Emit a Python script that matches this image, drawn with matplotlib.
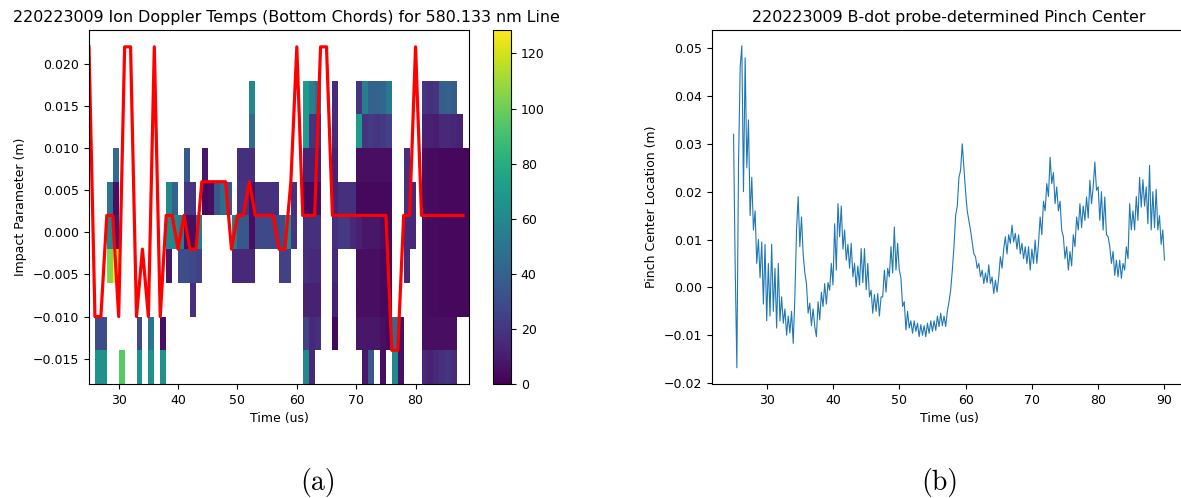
import numpy as np
import matplotlib
matplotlib.use("Agg")
import matplotlib.pyplot as plt

nan = np.nan

# ---------------- Ion Doppler temperature grid ----------------
# time bin edges (us) and chord impact-parameter edges (m)
time_edges = np.arange(25, 90)
chord_edges = np.linspace(-0.018, 0.018, 10)

# temperatures (eV) per chord, top chord (+0.016 m) first, one value per 1 us bin (t = 25 ... 88)
temp_p016 = [nan, nan, nan, nan, nan, nan, nan, nan, nan, nan, nan, nan, nan, nan, nan, nan,
             nan, nan, nan, nan, nan, nan, nan, nan, nan, nan, nan, 60, nan, nan, nan, nan,
             nan, nan, nan, nan, 70, 55, 45, nan, nan, 15, nan, nan, nan, 20, 55, 40,
             40, 42, 52, nan, nan, nan, nan, nan, 20, 18, 20, 38, 40, 36, nan, nan]
temp_p012 = [nan, nan, nan, nan, nan, nan, nan, nan, nan, nan, nan, nan, nan, nan, nan, nan,
             nan, nan, nan, nan, nan, nan, nan, nan, nan, nan, nan, 45, nan, nan, nan, nan,
             nan, nan, nan, nan, 70, 20, 18, nan, nan, 15, nan, nan, nan, 70, 20, 22,
             20, 22, 25, nan, nan, nan, nan, nan, 12, 12, 10, 15, 15, 14, 12, nan]
temp_p008 = [nan, nan, nan, nan, 45, nan, nan, nan, nan, nan, nan, nan, nan, nan, nan, nan,
             35, nan, nan, 8, nan, nan, nan, nan, nan, 18, 18, 18, nan, nan, nan, nan,
             nan, nan, nan, nan, 12, 12, 12, nan, nan, 12, nan, nan, nan, 5, 5, 5,
             5, 5, 5, nan, nan, 18, nan, nan, 5, 4, 4, 3, 3, 3, 3, 3]
temp_p004 = [nan, nan, nan, 50, 5, nan, nan, nan, nan, nan, nan, nan, nan, 60, 40, nan,
             20, 20, nan, 3, 5, 35, 45, 35, nan, 20, 20, 5, 18, 18, 18, 18,
             nan, nan, 18, nan, 3, 3, 5, nan, nan, 12, 18, 18, 18, 3, 3, 3,
             3, 3, 3, nan, nan, 18, 15, nan, 5, 4, 4, 3, 3, 3, 3, 3]
temp_p000 = [nan, nan, nan, 60, 8, nan, nan, nan, nan, nan, nan, nan, nan, 60, 60, 55,
             5, 5, 55, nan, nan, nan, nan, nan, 55, 35, 35, 5, 28, 28, 28, 28,
             30, 60, 20, nan, 18, 18, 18, nan, nan, 18, 22, 22, 15, 12, 8, 8,
             8, 5, 3, nan, nan, 15, 15, nan, 5, 4, 4, 3, 3, 3, 3, 3]
temp_m004 = [nan, nan, nan, 105, 128, nan, nan, nan, nan, nan, nan, nan, nan, 8, nan, 30,
             30, 28, 25, nan, nan, nan, nan, nan, 15, 15, 15, 15, nan, nan, nan, nan,
             25, 25, nan, nan, 18, 15, 15, nan, nan, 15, nan, nan, nan, 5, 5, 5,
             5, 3, 3, nan, nan, 15, nan, nan, 5, 4, 4, 3, 3, 3, 3, 3]
temp_m008 = [nan, nan, nan, nan, nan, nan, nan, nan, nan, nan, nan, nan, nan, nan, nan, nan,
             nan, 18, nan, nan, nan, nan, nan, nan, nan, nan, nan, nan, nan, nan, nan, nan,
             nan, nan, nan, nan, 12, 12, 12, nan, nan, 12, nan, nan, nan, 5, 5, 5,
             5, 3, 3, nan, nan, nan, nan, nan, 5, 4, 4, 3, 3, 3, 3, 3]
temp_m012 = [nan, 30, 30, nan, nan, nan, nan, nan, 28, nan, 50, nan, 5, nan, nan, nan,
             nan, nan, nan, nan, nan, nan, nan, nan, nan, nan, nan, nan, nan, nan, nan, nan,
             nan, nan, nan, nan, 25, 15, 18, nan, nan, 3, nan, nan, nan, 8, 8, 8,
             8, 5, 3, 45, 5, nan, nan, nan, 5, 5, 5, 5, 5, 5, nan, nan]
temp_m016 = [nan, 65, 65, nan, nan, 95, nan, nan, 65, nan, 65, nan, 65, nan, nan, nan,
             nan, nan, nan, nan, nan, nan, nan, nan, nan, nan, nan, nan, nan, nan, nan, nan,
             nan, nan, nan, nan, 60, 15, nan, nan, nan, nan, nan, nan, nan, nan, 8, 35,
             nan, 5, nan, 60, 5, nan, nan, nan, 15, 12, 15, 18, 20, 16, nan, nan]

# bright-chord position marker (m) at t = 25 ... 88 us
peak_chord = [0.022, -0.010, -0.010, 0.002, 0.002, -0.010, 0.022, 0.022, -0.010, -0.002,
              -0.010, 0.022, -0.010, 0.002, 0.002, -0.002, 0.002, -0.002, -0.002, 0.006,
              0.006, 0.006, 0.006, 0.006, -0.002, 0.002, 0.002, 0.006, 0.002, 0.002,
              0.002, 0.002, -0.002, -0.002, 0.006, 0.022, 0.002, 0.002, 0.002, 0.022,
              0.022, 0.002, 0.002, 0.002, 0.002, 0.002, 0.002, 0.002, 0.002, 0.002,
              0.002, -0.014, -0.014, 0.002, 0.002, 0.022, 0.002, 0.002, 0.002, 0.002,
              0.002, 0.002, 0.002, 0.002]

# ---------------- B-dot pinch center ----------------
bdot_time = np.arange(25.0, 90.001, 0.25)
pinch_center = [
    0.0320, 0.0040, -0.0168, 0.0258, 0.0460, 0.0505, 0.0200, 0.0480,
    0.0250, 0.0350, 0.0150, 0.0230, 0.0120, 0.0160, 0.0050, 0.0100,
    0.0020, 0.0095, -0.0035, 0.0090, -0.0070, 0.0050, -0.0060, 0.0090,
    -0.0050, 0.0040, -0.0085, 0.0050, -0.0070, -0.0020, -0.0075, -0.0045,
    -0.0100, -0.0060, -0.0095, -0.0050, -0.0117, -0.0020, 0.0120, 0.0190,
    0.0085, 0.0147, 0.0070, 0.0030, 0.0008, -0.0054, -0.0033, -0.0080,
    -0.0045, -0.0082, -0.0103, -0.0030, -0.0068, -0.0010, -0.0040, 0.0008,
    -0.0035, 0.0010, -0.0006, 0.0050, 0.0005, 0.0133, 0.0036, 0.0175,
    0.0106, 0.0170, 0.0080, 0.0120, 0.0057, 0.0090, 0.0040, 0.0092,
    0.0022, 0.0050, 0.0001, 0.0045, 0.0005, 0.0081, 0.0010, 0.0081,
    -0.0005, 0.0050, -0.0020, -0.0006, -0.0054, -0.0015, -0.0050, -0.0013,
    -0.0060, -0.0020, -0.0020, 0.0036, -0.0010, 0.0040, 0.0022, 0.0085,
    0.0030, 0.0126, 0.0036, 0.0092, 0.0036, 0.0020, -0.0040, -0.0030,
    -0.0089, -0.0050, -0.0085, -0.0070, -0.0096, -0.0070, -0.0092, -0.0075,
    -0.0103, -0.0078, -0.0100, -0.0080, -0.0103, -0.0075, -0.0096, -0.0070,
    -0.0092, -0.0070, -0.0090, -0.0060, -0.0082, -0.0054, -0.0080, -0.0060,
    -0.0082, -0.0050, -0.0030, -0.0006, 0.0036, 0.0085, 0.0150, 0.0170,
    0.0230, 0.0245, 0.0300, 0.0250, 0.0200, 0.0160, 0.0140, 0.0119,
    0.0095, 0.0070, 0.0064, 0.0040, 0.0050, 0.0022, 0.0036, 0.0008,
    0.0030, 0.0010, 0.0047, 0.0008, 0.0022, -0.0013, 0.0015, -0.0010,
    0.0022, 0.0064, 0.0040, 0.0080, 0.0106, 0.0070, 0.0110, 0.0092,
    0.0130, 0.0095, 0.0113, 0.0080, 0.0110, 0.0070, 0.0092, 0.0060,
    0.0085, 0.0050, 0.0085, 0.0036, 0.0080, 0.0050, 0.0099, 0.0050,
    0.0092, 0.0147, 0.0110, 0.0180, 0.0160, 0.0217, 0.0190, 0.0272,
    0.0217, 0.0240, 0.0175, 0.0210, 0.0160, 0.0180, 0.0120, 0.0106,
    0.0060, 0.0085, 0.0036, 0.0075, 0.0045, 0.0110, 0.0085, 0.0147,
    0.0120, 0.0175, 0.0125, 0.0170, 0.0140, 0.0189, 0.0145, 0.0224,
    0.0175, 0.0210, 0.0262, 0.0203, 0.0210, 0.0140, 0.0200, 0.0120,
    0.0189, 0.0110, 0.0106, 0.0085, 0.0050, 0.0075, 0.0025, 0.0057,
    0.0022, 0.0057, 0.0019, 0.0050, 0.0036, 0.0085, 0.0060, 0.0175,
    0.0120, 0.0160, 0.0120, 0.0190, 0.0140, 0.0230, 0.0168, 0.0225,
    0.0170, 0.0210, 0.0133, 0.0255, 0.0120, 0.0200, 0.0125, 0.0205,
    0.0120, 0.0150, 0.0090, 0.0120, 0.0057,
]

temps = np.array([temp_m016, temp_m012, temp_m008, temp_m004, temp_p000,
                  temp_p004, temp_p008, temp_p012, temp_p016], dtype=float)

W, H = 1181, 498
fig = plt.figure(figsize=(W / 100, H / 100), dpi=100)

TICK = 9
LABEL = 9
TITLE = 11.45

# ---- panel (a) ----
ax1 = fig.add_axes([89 / W, 1 - 384 / H, 380 / W, 354 / H])
mesh = ax1.pcolormesh(time_edges, chord_edges, np.ma.masked_invalid(temps),
                      cmap="viridis", vmin=0, vmax=128.5)
ax1.plot(time_edges[:-1], peak_chord, color="red", lw=2.3)
ax1.set_xlim(25, 89)
ax1.set_ylim(-0.018, 0.024)
ax1.set_xticks([30, 40, 50, 60, 70, 80])
ax1.set_yticks([-0.015, -0.010, -0.005, 0.000, 0.005, 0.010, 0.015, 0.020])
ax1.tick_params(labelsize=TICK)
ax1.set_xlabel("Time (us)", fontsize=LABEL)
ax1.set_ylabel("Impact Parameter (m)", fontsize=LABEL)
ax1.set_title("220223009 Ion Doppler Temps (Bottom Chords) for 580.133 nm Line",
              fontsize=TITLE, x=0.519)

cax = fig.add_axes([493 / W, 1 - 384 / H, 18 / W, 354 / H])
cb = fig.colorbar(mesh, cax=cax)
cb.set_ticks([0, 20, 40, 60, 80, 100, 120])
cb.ax.tick_params(labelsize=TICK)
cb.outline.set_linewidth(0.8)

# ---- panel (b) ----
ax2 = fig.add_axes([712 / W, 1 - 384 / H, 474 / W, 354 / H])
ax2.plot(bdot_time, pinch_center, color="#1f77b4", lw=0.8)
ax2.set_xlim(21.75, 93.25)
ax2.set_ylim(-0.0202, 0.0538)
ax2.set_xticks([30, 40, 50, 60, 70, 80, 90])
ax2.set_yticks([-0.02, -0.01, 0.00, 0.01, 0.02, 0.03, 0.04, 0.05])
ax2.tick_params(labelsize=TICK)
ax2.set_xlabel("Time (us)", fontsize=LABEL)
ax2.set_ylabel("Pinch Center Location (m)", fontsize=LABEL)
ax2.set_title("220223009 B-dot probe-determined Pinch Center", fontsize=TITLE)

# sub-figure captions
fig.text(318 / W, 1 - 482 / H, "(a)", family="cmr10", fontsize=20,
         ha="center", va="center")
fig.text(940 / W, 1 - 482 / H, "(b)", family="cmr10", fontsize=20,
         ha="center", va="center")

fig.savefig("out.png", dpi=100)
